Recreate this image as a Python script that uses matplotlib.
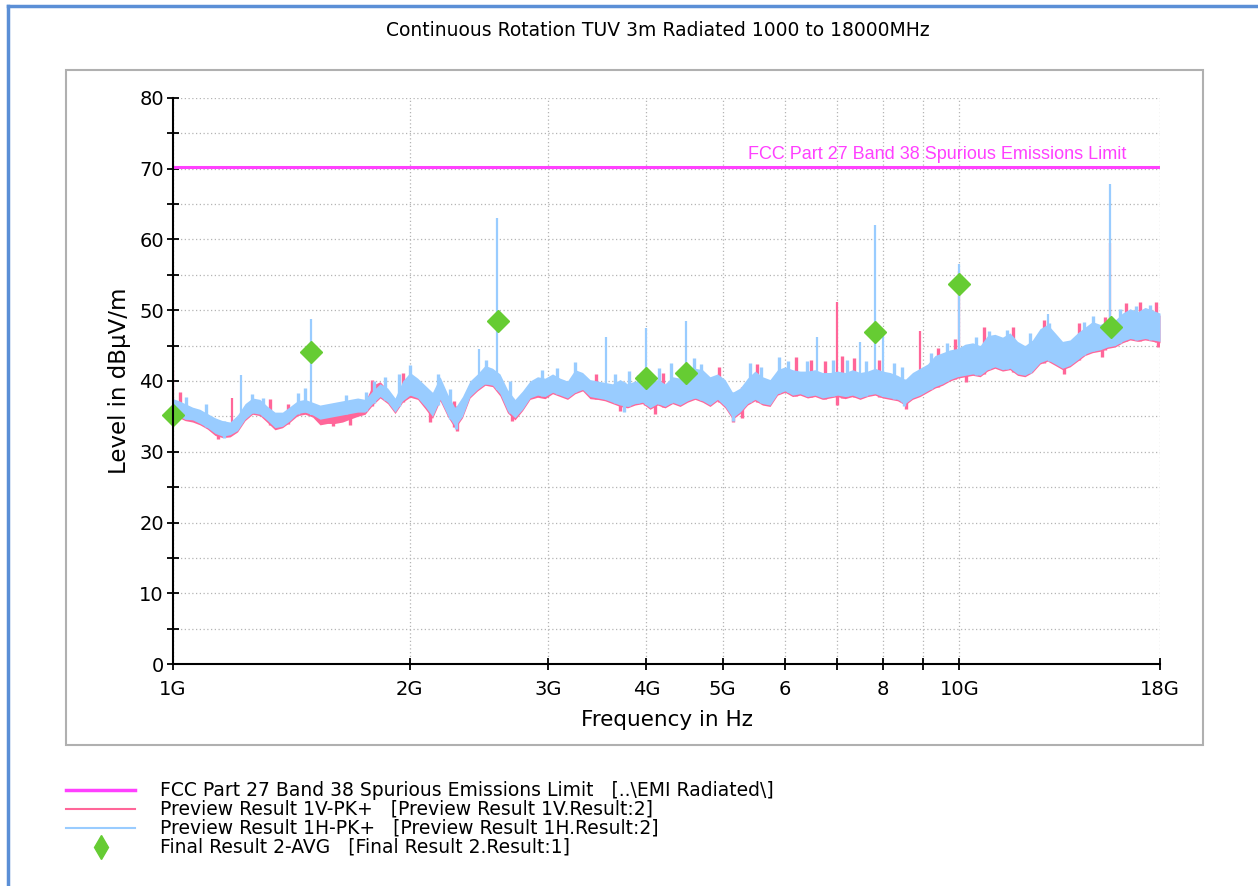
import numpy as np
import matplotlib
matplotlib.use('Agg')
import matplotlib.pyplot as plt
from matplotlib.lines import Line2D
from matplotlib.patches import Rectangle

# Barrido de emisiones radiadas 1-18 GHz (frecuencia en GHz, nivel en dBuV/m)

freq = [1.000, 1.018, 1.036, 1.059, 1.082, 1.106, 1.131, 1.156, 1.182, 1.208,
        1.235, 1.262, 1.290, 1.319, 1.348, 1.378, 1.409, 1.440, 1.472, 1.505,
        1.538, 1.572, 1.607, 1.643, 1.679, 1.717, 1.755, 1.794, 1.834, 1.875,
        1.916, 1.959, 2.002, 2.047, 2.092, 2.138, 2.186, 2.234, 2.284, 2.334,
        2.386, 2.439, 2.494, 2.549, 2.605, 2.663, 2.722, 2.783, 2.845, 2.908,
        2.973, 3.039, 3.106, 3.175, 3.246, 3.318, 3.391, 3.466, 3.543, 3.622,
        3.703, 3.785, 3.869, 3.955, 4.043, 4.132, 4.224, 4.318, 4.414, 4.512,
        4.612, 4.715, 4.819, 4.926, 5.036, 5.148, 5.262, 5.379, 5.498, 5.620,
        5.745, 5.873, 6.003, 6.137, 6.273, 6.412, 6.554, 6.700, 6.849, 7.001,
        7.157, 7.316, 7.477, 7.644, 7.813, 7.987, 8.164, 8.346, 8.531, 8.720,
        8.914, 9.112, 9.314, 9.521, 9.733, 9.949, 10.17, 10.40, 10.63, 10.86,
        11.10, 11.35, 11.60, 11.86, 12.12, 12.39, 12.67, 12.95, 13.24, 13.53,
        13.83, 14.14, 14.45, 14.77, 15.10, 15.43, 15.78, 16.13, 16.49, 16.86,
        17.23, 17.61, 18.00]

# Preview 1H (PK+), borde inferior y superior
h_lo = [35.5, 35.0, 34.6, 34.5, 34.0, 33.4, 32.6, 32.2, 32.4, 33.0,
        34.6, 35.5, 35.3, 34.4, 33.4, 33.6, 34.4, 35.4, 35.6, 35.2,
        34.6, 34.8, 35.0, 35.2, 35.4, 35.6, 35.6, 36.8, 37.8, 37.0,
        35.6, 37.2, 38.0, 37.6, 36.4, 35.0, 37.4, 35.2, 33.6, 35.0,
        37.8, 38.8, 39.6, 39.4, 38.2, 35.8, 34.8, 36.0, 37.6, 38.0,
        37.8, 38.4, 38.0, 37.6, 38.4, 38.8, 37.8, 37.6, 37.4, 37.0,
        36.6, 36.4, 36.8, 37.0, 36.2, 36.8, 36.4, 37.0, 36.6, 37.2,
        37.6, 37.2, 36.6, 37.4, 36.4, 34.8, 35.6, 36.8, 37.4, 36.8,
        36.6, 38.2, 38.6, 38.0, 38.2, 37.8, 38.0, 37.6, 37.8, 38.0,
        37.8, 38.0, 37.6, 38.0, 38.2, 37.8, 37.6, 37.4, 36.8, 37.6,
        38.0, 38.6, 39.2, 39.6, 40.2, 40.6, 40.8, 41.0, 40.8, 41.6,
        42.0, 41.6, 41.8, 41.0, 40.8, 41.4, 42.6, 43.0, 42.4, 41.8,
        42.2, 43.0, 43.8, 44.2, 44.4, 44.8, 45.0, 45.6, 46.0, 45.8,
        46.0, 45.8, 45.6]
h_hi = [37.5, 37.2, 36.8, 36.3, 36.0, 35.4, 34.8, 34.4, 34.2, 35.2,
        36.8, 37.6, 37.4, 36.4, 35.6, 35.6, 36.4, 37.2, 37.4, 37.0,
        36.6, 36.8, 37.0, 37.2, 37.4, 37.6, 37.4, 38.6, 39.6, 39.0,
        37.6, 40.0, 41.2, 40.4, 39.4, 38.4, 40.6, 38.2, 36.2, 37.8,
        40.0, 41.0, 42.2, 41.8, 41.0, 38.8, 37.4, 38.6, 40.0, 40.6,
        40.4, 41.0, 40.4, 40.0, 41.6, 41.2, 40.2, 40.0, 39.8, 39.6,
        40.2, 39.6, 40.0, 39.8, 39.8, 40.2, 39.6, 40.6, 40.4, 41.4,
        41.8, 41.6, 40.6, 41.0, 40.2, 38.4, 39.0, 40.4, 41.4, 40.6,
        40.2, 41.6, 42.0, 41.6, 41.4, 41.4, 41.6, 41.2, 41.2, 41.4,
        41.2, 41.6, 41.2, 41.4, 41.8, 41.4, 41.2, 40.8, 40.2, 41.2,
        41.8, 42.4, 43.6, 44.0, 44.4, 44.6, 45.2, 45.4, 45.0, 46.4,
        46.6, 46.2, 46.8, 45.6, 45.0, 45.8, 47.4, 48.0, 46.8, 45.6,
        45.8, 46.8, 47.6, 48.4, 48.0, 48.4, 48.6, 49.6, 50.2, 49.8,
        50.4, 50.0, 49.6]

# Preview 1V (PK+), casi siempre tapado por el 1H; asoma por abajo
v_lo = [35.2, 34.8, 34.4, 34.2, 33.8, 33.2, 32.3, 32.0, 32.1, 32.8,
        34.4, 35.3, 35.1, 34.1, 33.1, 33.4, 34.2, 35.1, 35.3, 34.9,
        33.8, 34.0, 34.0, 34.2, 34.6, 35.0, 35.3, 36.6, 37.6, 36.8,
        35.4, 37.0, 37.7, 37.4, 36.1, 34.7, 37.2, 35.0, 33.3, 34.8,
        37.6, 38.6, 39.4, 39.2, 37.9, 35.5, 34.5, 35.8, 37.4, 37.7,
        37.5, 38.2, 37.8, 37.4, 38.2, 38.6, 37.5, 37.4, 37.2, 36.8,
        36.4, 36.2, 36.6, 36.8, 36.0, 36.6, 36.2, 36.8, 36.4, 37.0,
        37.4, 37.0, 36.4, 37.2, 36.2, 34.6, 35.4, 36.6, 37.2, 36.6,
        36.4, 38.0, 38.4, 37.8, 38.0, 37.6, 37.8, 37.4, 37.6, 37.8,
        37.5, 37.8, 37.4, 37.8, 38.0, 37.6, 37.4, 37.2, 36.6, 37.4,
        37.8, 38.4, 39.0, 39.4, 40.0, 40.4, 40.6, 40.8, 40.6, 41.4,
        41.8, 41.4, 41.6, 40.8, 40.6, 41.2, 42.4, 42.8, 42.2, 41.6,
        42.0, 42.8, 43.6, 44.0, 44.2, 44.6, 44.8, 45.4, 45.8, 45.6,
        45.8, 45.6, 45.4]
v_hi = [37.2, 36.9, 36.5, 36.0, 35.7, 35.1, 34.5, 34.1, 33.9, 34.9,
        36.5, 37.3, 37.1, 36.1, 35.3, 35.3, 36.1, 36.9, 37.1, 36.7,
        36.3, 36.5, 36.7, 36.9, 37.1, 37.3, 37.1, 39.4, 39.9, 38.7,
        37.3, 39.7, 40.9, 40.1, 39.1, 38.1, 40.3, 37.9, 35.9, 37.5,
        39.7, 40.7, 41.9, 41.5, 40.7, 38.5, 37.1, 38.3, 39.7, 40.3,
        40.1, 40.7, 40.1, 39.7, 41.3, 40.9, 39.9, 39.7, 39.5, 39.3,
        39.9, 39.3, 39.7, 39.5, 39.5, 39.9, 39.3, 40.3, 40.1, 41.1,
        41.5, 41.3, 40.3, 40.7, 39.9, 38.1, 38.7, 40.1, 41.1, 40.3,
        39.9, 41.3, 41.7, 41.3, 41.1, 41.1, 41.3, 40.9, 40.9, 41.1,
        40.9, 41.3, 40.9, 41.1, 41.5, 41.1, 40.9, 40.5, 39.9, 40.9,
        41.5, 42.1, 43.3, 43.7, 44.1, 44.3, 44.9, 45.1, 44.7, 46.1,
        46.3, 45.9, 46.5, 45.3, 44.7, 45.5, 47.1, 47.7, 46.5, 45.3,
        45.5, 46.5, 47.3, 48.1, 47.7, 48.1, 48.3, 49.3, 49.9, 49.5,
        50.1, 49.7, 49.3]

# Picos puntuales grandes
h_pico_f = [1.22, 1.50, 2.45, 2.58, 3.55, 4.00, 4.49, 6.60, 7.47, 7.81, 8.00, 10.0, 12.97, 15.56]
h_pico_db = [40.9, 48.7, 44.5, 63.0, 46.2, 47.5, 48.5, 46.2, 45.5, 62.0, 47.2, 56.6, 49.5, 67.8]
v_pico_f = [1.0, 1.19, 6.99, 8.92, 10.0, 15.56]
v_pico_db = [41.6, 37.6, 51.2, 47.0, 55.5, 59.5]

# Ruido: picos pequenos sobre el borde superior
h_ruido_f = [1.04, 1.10, 1.26, 1.30, 1.44, 1.47, 1.66, 1.76, 1.80, 1.86, 1.94, 2.00,
             2.17, 2.25, 2.50, 2.68, 2.95, 3.08, 3.25, 3.65, 3.80, 3.90, 4.15, 4.30,
             4.60, 4.70, 5.42, 5.60, 5.90, 6.05, 6.40, 6.90, 7.20, 7.60, 8.25, 8.45,
             9.20, 9.65, 10.5, 10.9, 11.5, 12.3, 13.0, 14.4, 14.8, 16.0, 16.8, 17.5]
h_ruido_db = [37.8, 36.8, 38.2, 37.6, 38.3, 39.0, 38.0, 38.5, 40.0, 40.6, 41.0, 42.3,
              41.0, 38.8, 43.0, 40.0, 41.5, 41.8, 42.7, 41.0, 41.4, 40.8, 41.8, 42.6,
              43.2, 42.4, 42.6, 42.0, 43.4, 42.8, 42.8, 43.0, 43.0, 42.8, 42.6, 42.0,
              44.0, 45.4, 46.2, 47.0, 47.2, 46.8, 48.2, 48.4, 49.2, 50.2, 50.6, 50.8]
v_ruido_f = [1.02, 1.33, 1.40, 1.79, 1.96, 2.28, 3.45, 3.98, 4.20, 4.95, 5.53, 6.20,
             6.48, 6.75, 7.10, 7.35, 7.90, 9.40, 9.88, 10.75, 11.7, 12.8, 14.2, 15.3,
             16.3, 17.0, 17.8]
v_ruido_db = [38.4, 37.4, 36.8, 40.2, 41.2, 37.2, 41.0, 40.8, 41.2, 42.0, 42.4, 43.4,
              43.0, 42.8, 43.6, 43.2, 43.0, 44.6, 46.0, 47.6, 47.6, 48.6, 48.2, 49.0,
              51.0, 51.2, 51.2]
# Ruido: valles bajo el borde inferior
v_valle_f = [1.14, 1.60, 1.68, 2.12, 2.30, 2.70, 3.70, 4.10, 5.15, 5.30, 7.00, 8.55,
             10.2, 13.6, 15.2, 17.9]
v_valle_db = [31.8, 33.6, 33.8, 34.2, 33.0, 34.4, 35.8, 35.4, 34.2, 34.8, 36.6, 36.0,
              39.8, 41.0, 43.4, 44.8]
h_valle_f = [1.16, 2.29, 3.75, 5.15, 8.50]
h_valle_db = [31.9, 33.2, 35.6, 34.4, 36.4]

# Final Result 2 (AVG)
final_f = [1.0, 1.50, 2.59, 4.00, 4.49, 7.81, 10.0, 15.6]
final_db = [35.2, 44.1, 48.5, 40.4, 41.1, 46.9, 53.7, 47.6]

limite = 70.2

x_ticks = [1, 2, 3, 4, 5, 6, 7, 8, 9, 10, 18]
x_labels = ['1G', '2G', '3G', '4G', '5G', '6', '', '8', '', '10G', '18G']

c_lim = '#ff40ff'
c_v = '#ff6699'
c_h = '#99ccff'
c_fin = '#66cc33'

fig = plt.figure(figsize=(12.58, 8.86), dpi=100)
ax = fig.add_axes([173/1258, 1-664/886, (1160-173)/1258, (664-98)/886])

# Traza 1V
ax.fill_between(freq, v_lo, v_hi, color=c_v, lw=0, zorder=2)
ax.vlines(v_pico_f, np.interp(v_pico_f, freq, v_lo), v_pico_db, color=c_v, lw=1.6, zorder=2)
ax.vlines(v_ruido_f, np.interp(v_ruido_f, freq, v_lo), v_ruido_db, color=c_v, lw=2.4, zorder=2)
ax.vlines(v_valle_f, v_valle_db, np.interp(v_valle_f, freq, v_hi), color=c_v, lw=2.4, zorder=2)

# Traza 1H encima
ax.fill_between(freq, h_lo, h_hi, color=c_h, lw=0, zorder=3)
ax.vlines(h_pico_f, np.interp(h_pico_f, freq, h_lo), h_pico_db, color=c_h, lw=1.6, zorder=3)
ax.vlines(h_ruido_f, np.interp(h_ruido_f, freq, h_lo), h_ruido_db, color=c_h, lw=2.4, zorder=3)
ax.vlines(h_valle_f, h_valle_db, np.interp(h_valle_f, freq, h_hi), color=c_h, lw=2.4, zorder=3)

# Limite
ax.plot([1, 18], [limite, limite], color=c_lim, lw=2.2, zorder=4)
ax.text(16.3, limite + 0.6, 'FCC Part 27 Band 38 Spurious Emissions Limit', color=c_lim,
        fontsize=13, family='Liberation Sans', ha='right', va='bottom', zorder=5)

# Resultados finales
ax.plot(final_f, final_db, 'D', color=c_fin, ms=11, mec=c_fin, zorder=6, clip_on=False)

ax.set_xscale('log')
ax.set_xlim(1, 18)
ax.set_ylim(0, 80)
ax.set_xticks(x_ticks)
ax.set_xticklabels(x_labels)
ax.xaxis.set_minor_locator(matplotlib.ticker.NullLocator())
ax.set_yticks(range(0, 81, 10))
ax.set_yticks(range(5, 80, 10), minor=True)

for s in ['top', 'right']:
    ax.spines[s].set_visible(False)
for s in ['left', 'bottom']:
    ax.spines[s].set_linewidth(1.5)
    ax.spines[s].set_zorder(7)

ax.tick_params(axis='both', which='both', direction='inout', width=1.3, length=9,
               labelsize=14, colors='black')
ax.tick_params(axis='x', pad=7)
ax.tick_params(axis='y', pad=2)
for lab in ax.get_xticklabels() + ax.get_yticklabels():
    lab.set_family('DejaVu Sans')

ax.grid(True, which='both', color='#b4b4b4', lw=0.9, linestyle=(0, (1, 2)))
ax.set_axisbelow(True)

ax.set_xlabel('Frequency in Hz', fontsize=15.5, family='DejaVu Sans', labelpad=8)
ax.set_ylabel('Level in dBµV/m', fontsize=16.5, family='DejaVu Sans', labelpad=6)

fig.text(658/1258, 1-30/886, 'Continuous Rotation TUV 3m Radiated 1000 to 18000MHz',
         ha='center', va='center', fontsize=13.5, family='DejaVu Sans')

# Marco gris del grafico y borde azul
fig.add_artist(Rectangle((66/1258, 1-745/886), (1203-66)/1258, (745-70)/886,
                         transform=fig.transFigure, fill=False, ec='#b0b0b0', lw=1.5))
fig.add_artist(Line2D([8/1258, 8/1258], [0, 1-6/886], transform=fig.transFigure,
                      color='#5b8fd6', lw=2.5))
fig.add_artist(Line2D([8/1258, 1], [1-6/886, 1-6/886], transform=fig.transFigure,
                      color='#5b8fd6', lw=2.5))

# Leyenda
filas = [790, 809, 828, 847]
textos = ['FCC Part 27 Band 38 Spurious Emissions Limit   [..\\EMI Radiated\\]',
          'Preview Result 1V-PK+   [Preview Result 1V.Result:2]',
          'Preview Result 1H-PK+   [Preview Result 1H.Result:2]',
          'Final Result 2-AVG   [Final Result 2.Result:1]']
for i, (yp, t) in enumerate(zip(filas, textos)):
    yf = 1 - yp/886
    if i == 0:
        fig.add_artist(Line2D([66/1258, 135/1258], [yf, yf], transform=fig.transFigure, color=c_lim, lw=2.5))
    elif i == 1:
        fig.add_artist(Line2D([66/1258, 135/1258], [yf, yf], transform=fig.transFigure, color=c_v, lw=1.5))
    elif i == 2:
        fig.add_artist(Line2D([66/1258, 135/1258], [yf, yf], transform=fig.transFigure, color=c_h, lw=1.5))
    else:
        fig.add_artist(Line2D([101/1258], [yf], transform=fig.transFigure, marker='d',
                              color=c_fin, ms=12, ls='none'))
    fig.text(160/1258, yf, t, ha='left', va='center', fontsize=13.5, family='DejaVu Sans')

plt.savefig('out.png', dpi=100)
